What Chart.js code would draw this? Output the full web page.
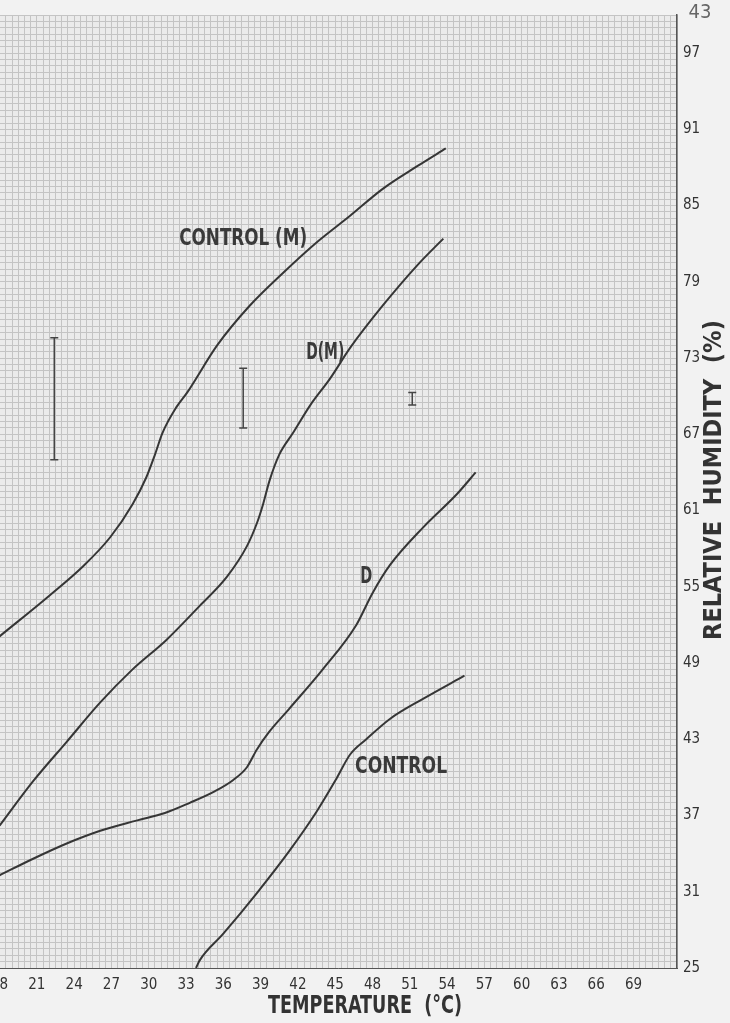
<!DOCTYPE html>
<html>
<head>
<meta charset="utf-8">
<script src="https://cdn.jsdelivr.net/npm/chart.js@4/dist/chart.umd.min.js"></script>
<style>
    html, body { margin: 0; padding: 0; background: #f2f2f2; overflow: hidden; }
    #wrap { position: relative; width: 730px; height: 1023px; overflow: hidden; }
    canvas { display: block; }
</style>
</head>
<body>
<div id="wrap"><canvas id="rhChart" width="730" height="1023"></canvas></div>
<script>
// tick labels
const tempTicks = [18, 21, 24, 27, 30, 33, 36, 39, 42, 45, 48, 51, 54, 57, 60, 63, 66, 69];
const rhTicks = [25, 31, 37, 43, 49, 55, 61, 67, 73, 79, 85, 91, 97];

// CONTROL (M)
const controlMTemp = [18.0, 22.0, 24.7, 26.9, 28.7, 29.8, 30.5, 31.1, 32.2, 33.1, 35.5, 38.1, 40.8, 43.5, 46.2, 48.8, 51.6, 53.9];
const controlMRH   = [51.1, 54.3, 56.6, 58.9, 61.5, 63.6, 65.4, 67.1, 69.1, 70.3, 74.0, 77.1, 79.7, 82.1, 84.2, 86.3, 88.1, 89.5];

// D (M)
const dMTemp = [18.0, 20.7, 23.4, 26.1, 28.7, 31.4, 34.1, 36.3, 37.9, 38.7, 39.2, 39.7, 40.5, 41.6, 43.0, 44.6, 46.2, 48.8, 51.6, 53.7];
const dMRH   = [36.2, 39.7, 42.8, 45.9, 48.5, 50.8, 53.5, 55.8, 58.2, 60.0, 61.5, 63.3, 65.4, 67.1, 69.3, 71.4, 73.8, 77.1, 80.3, 82.4];

// D
const dTemp = [18.0, 20.7, 23.4, 26.1, 29.0, 31.3, 33.3, 35.3, 36.8, 37.9, 38.7, 39.7, 41.3, 44.0, 46.7, 48.0, 49.4, 52.1, 54.8, 56.3];
const dRH   = [32.3, 33.6, 34.8, 35.8, 36.6, 37.2, 38.0, 38.9, 39.8, 40.8, 42.2, 43.6, 45.4, 48.5, 52.0, 54.5, 56.7, 59.7, 62.3, 64.0];

// CONTROL
const controlTemp = [33.8, 34.1, 36.0, 38.7, 41.3, 43.5, 45.1, 46.2, 47.5, 49.4, 52.1, 55.4];
const controlRH   = [25.0, 25.6, 27.7, 30.9, 34.2, 37.3, 39.9, 41.8, 43.0, 44.6, 46.2, 48.0];

// error bars
const barTemp = [22.4, 37.6, 51.2];
const barLow  = [65.0, 67.5, 69.3];
const barHigh = [74.6, 72.2, 70.3];

// curve names written on the plot
const curveNames = ['CONTROL (M)', 'D(M)', 'D', 'CONTROL'];
const nameTemp = [37.6, 44.2, 47.5, 50.3];
const nameRH = [82.4, 73.4, 55.8, 40.8];

const narrow = "'Liberation Sans Narrow', 'DejaVu Sans Condensed', 'Roboto Condensed', sans-serif";
const ink = '#363636';

function pts(xs, ys) {
    return xs.map((x, i) => ({ x: x, y: ys[i] }));
}

function steps(from, to, step) {
    const out = [];
    for (let i = 0; from + i * step <= to + 1e-9; i++) out.push({ value: from + i * step });
    return out;
}

const curve = (label, xs, ys) => ({
    label: label,
    data: pts(xs, ys),
    borderColor: ink,
    borderWidth: 2,
    pointRadius: 0,
    cubicInterpolationMode: 'monotone',
    xAxisID: 'x',
    yAxisID: 'y'
});

const bars = barTemp.map((t, i) => ({
    label: 'bar' + i,
    data: [{ x: t, y: barLow[i] }, { x: t, y: barHigh[i] }],
    borderColor: '#444',
    borderWidth: 1.5,
    pointStyle: 'line',
    pointRadius: 4,
    pointBorderWidth: 1.5,
    pointBorderColor: '#444',
    xAxisID: 'x',
    yAxisID: 'y'
}));

const paper = {
    id: 'paper',
    beforeDraw(chart) {
        const { ctx, chartArea: a } = chart;
        ctx.save();
        ctx.fillStyle = '#f2f2f2';
        ctx.fillRect(0, 0, chart.width, chart.height);
        ctx.fillStyle = '#ebebeb';
        ctx.fillRect(a.left, a.top, a.right - a.left, a.bottom - a.top);
        ctx.restore();
    }
};

const texts = {
    id: 'texts',
    afterDatasetsDraw(chart) {
        const { ctx, scales: { x, y } } = chart;
        const off = chart.width - 730;   // canvas is shifted left by this much
        const widths = [128, 38, 12, 92];
        ctx.save();
        ctx.fillStyle = '#3a3a3a';
        ctx.textAlign = 'center';
        ctx.textBaseline = 'middle';
        ctx.font = 'bold 23px ' + narrow;
        curveNames.forEach((t, i) => {
            ctx.fillText(t, x.getPixelForValue(nameTemp[i]), y.getPixelForValue(nameRH[i]), widths[i]);
        });

        // axis titles
        ctx.font = 'bold 25px ' + narrow;
        ctx.fillStyle = '#333';
        ctx.fillText('TEMPERATURE  (\u00B0C)', 365 + off, 1006, 194);
        ctx.save();
        ctx.translate(714 + off, 480);
        ctx.rotate(-Math.PI / 2);
        ctx.fillText('RELATIVE  HUMIDITY  (%)', 0, 0, 340);
        ctx.restore();

        // page number
        ctx.font = '20px ' + narrow;
        ctx.fillStyle = '#666';
        ctx.fillText('43', 700 + off, 13);
        ctx.restore();
    }
};

function buildChart(canvas) {
    return new Chart(canvas, {
        type: 'line',
        data: {
            datasets: [
                curve('CONTROL (M)', controlMTemp, controlMRH),
                curve('D(M)', dMTemp, dMRH),
                curve('D', dTemp, dRH),
                curve('CONTROL', controlTemp, controlRH),
                ...bars
            ]
        },
        options: {
            responsive: false,
            animation: false,
            devicePixelRatio: 1,
            layout: { padding: { top: 7, left: 0, right: 0, bottom: 0 } },
            plugins: { legend: { display: false }, tooltip: { enabled: false } },
            scales: {
                x: {
                    type: 'linear',
                    position: 'bottom',
                    min: 18,
                    max: 72.5,
                    afterBuildTicks: s => { s.ticks = steps(18, 72, 3); },
                    afterFit: s => { s.height = 55; },
                    ticks: {
                        autoSkip: false,
                        maxRotation: 0,
                        padding: 8,
                        color: '#333',
                        font: { family: narrow, size: 15 },
                        callback: v => tempTicks.includes(v) ? String(v) : ''
                    },
                    grid: { color: '#7c7c7c', lineWidth: 1, drawTicks: false },
                    border: { display: true, color: '#555', width: 1 }
                },
                y: {
                    type: 'linear',
                    position: 'right',
                    min: 25,
                    max: 100,
                    afterBuildTicks: s => { s.ticks = steps(25, 100, 3); },
                    afterFit: s => { s.width = 53; },
                    ticks: {
                        autoSkip: false,
                        padding: 6,
                        color: '#333',
                        font: { family: narrow, size: 15 },
                        callback: v => rhTicks.includes(v) ? String(v) : ''
                    },
                    grid: { color: '#7c7c7c', lineWidth: 1, drawTicks: false },
                    border: { display: true, color: '#555', width: 1.5 }
                },
                xMinor: {
                    type: 'linear',
                    axis: 'x',
                    position: 'bottom',
                    min: 18,
                    max: 72.5,
                    z: -1,
                    afterBuildTicks: s => { s.ticks = steps(18, 72.5, 0.5); },
                    afterFit: s => { s.height = 0; },
                    ticks: { display: false },
                    grid: { color: '#c4c4c4', lineWidth: 1, drawTicks: false },
                    border: { display: false }
                },
                yMinor: {
                    type: 'linear',
                    axis: 'y',
                    position: 'right',
                    min: 25,
                    max: 100,
                    z: -1,
                    afterBuildTicks: s => { s.ticks = steps(25, 100, 0.5); },
                    afterFit: s => { s.width = 0; },
                    ticks: { display: false },
                    grid: { color: '#c4c4c4', lineWidth: 1, drawTicks: false },
                    border: { display: false }
                }
            }
        },
        plugins: [paper, texts]
    });
}

const canvas = document.getElementById('rhChart');
let rhChart = buildChart(canvas);

// the paper is cut at 18 °C: push the plot's left edge to the window edge
const shift = Math.round(rhChart.chartArea.left);
if (shift > 0) {
    rhChart.destroy();
    canvas.width = 730 + shift;
    canvas.height = 1023;
    canvas.style.marginLeft = -shift + 'px';
    rhChart = buildChart(canvas);
}
</script>
</body>
</html>
